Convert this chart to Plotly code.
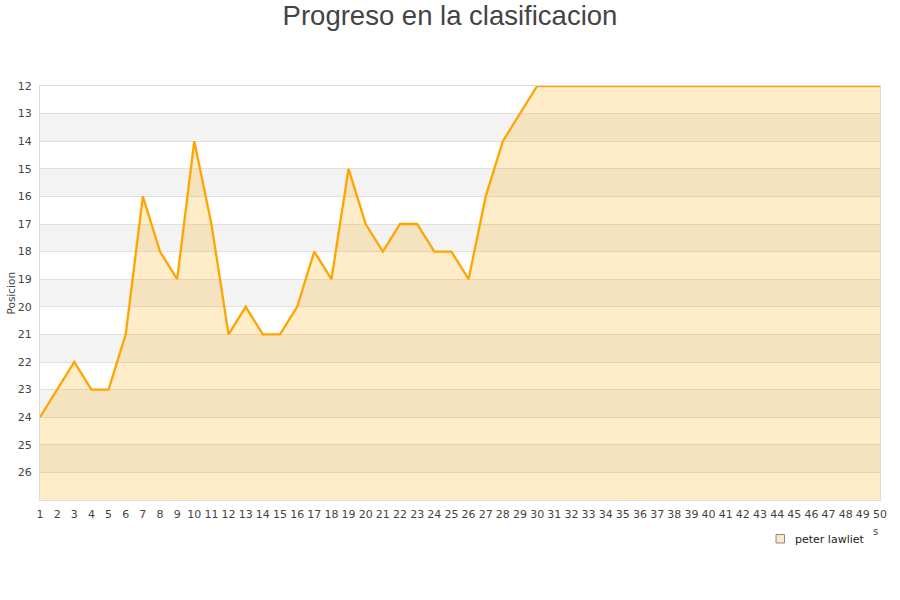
import plotly.graph_objects as go

jornadas = list(range(1, 51))
posicion = [24, 23, 22, 23, 23, 21, 16, 18, 19, 14,
            17, 21, 20, 21, 21, 20, 18, 19, 15, 17,
            18, 17, 17, 18, 18, 19, 16, 14, 13, 12] + [12] * 20
y_ticks = list(range(12, 27))
jugador = "peter lawliet"

W, H = 900, 600
L, T, R, B = 40, 86, 20, 100
PW, PH = W - L - R, H - T - B


def px(xp):
    return (xp - L) / PW


def py(yp):
    return (H - B - yp) / PH


fig = go.Figure()

fig.add_trace(go.Scatter(x=jornadas, y=[27] * len(jornadas), mode="lines",
                         line=dict(width=0), showlegend=False, hoverinfo="skip"))
fig.add_trace(go.Scatter(x=jornadas, y=posicion, mode="lines", fill="tonexty",
                         fillcolor="rgba(255,165,0,0.21)",
                         line=dict(color="#ffa500", width=2.3),
                         showlegend=False, name=jugador))

shapes = []
for v in range(13, 27, 2):
    shapes.append(dict(type="rect", xref="paper", yref="y", x0=0, x1=1,
                       y0=v, y1=v + 1, fillcolor="#f3f3f3", line=dict(width=0),
                       layer="below"))
# legend symbol
shapes.append(dict(type="rect", xref="paper", yref="paper",
                   x0=px(776), x1=px(784.5), y0=py(534.5), y1=py(543),
                   fillcolor="#fde9c6", line=dict(color="#8a8a8a", width=1)))

annotations = [
    dict(text=jugador, xref="paper", yref="paper", x=px(793), y=py(539),
         xanchor="left", yanchor="middle", showarrow=False,
         font=dict(family="DejaVu Sans", size=11, color="#222")),
    dict(text="s", xref="paper", yref="paper", x=px(875), y=py(531),
         xanchor="center", yanchor="middle", showarrow=False,
         font=dict(family="DejaVu Sans", size=10, color="#444")),
    dict(text="Posicion", xref="paper", yref="paper", x=px(10.5), y=py(293),
         xanchor="center", yanchor="middle", showarrow=False, textangle=-90,
         font=dict(family="DejaVu Sans", size=10.5, color="#444")),
]

fig.update_layout(
    width=W, height=H,
    margin=dict(l=L, r=R, t=T, b=B, autoexpand=False),
    paper_bgcolor="white", plot_bgcolor="white",
    title=dict(text="Progreso en la clasificacion", x=0.5, xanchor="center",
               xref="container", y=1 - 15 / H, yanchor="middle",
               font=dict(family="Liberation Sans", size=27.5, color="#444")),
    font=dict(family="DejaVu Sans", size=11, color="#444"),
    shapes=shapes,
    annotations=annotations,
    showlegend=False,
)

fig.update_xaxes(range=[1, 50], tickmode="array", tickvals=jornadas,
                 ticktext=[str(j) for j in jornadas], showgrid=False,
                 showline=True, linecolor="#dddddd", linewidth=1, mirror=True,
                 ticks="", zeroline=False, ticklabelstandoff=4, automargin=False,
                 tickfont=dict(size=11, color="#444"))
fig.update_yaxes(range=[27, 12], tickmode="array", tickvals=y_ticks,
                 ticktext=[str(v) for v in y_ticks], showgrid=True,
                 gridcolor="#e0e0e0", gridwidth=1,
                 showline=True, linecolor="#dddddd", linewidth=1, mirror=True,
                 ticks="", zeroline=False, ticklabelstandoff=5, automargin=False,
                 tickfont=dict(size=11, color="#444"))

fig.write_html("out.html", config={"displayModeBar": False},
               post_script="document.body.style.margin='0px';")
